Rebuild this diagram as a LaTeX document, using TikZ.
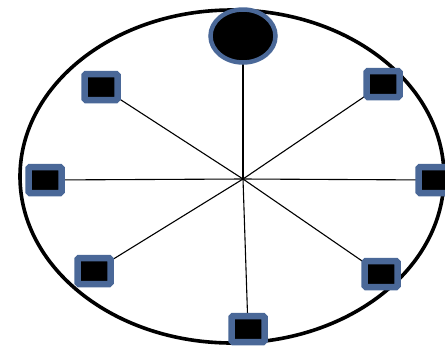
\documentclass[tikz,border=0pt]{standalone}
\usetikzlibrary{shapes.geometric}
\definecolor{sblue}{HTML}{4A6898}
\begin{document}
\begin{tikzpicture}[x=1pt,y=-1pt,
  sq/.style={draw=sblue,fill=black,line width=6.5pt,minimum width=33pt,minimum height=26pt,inner sep=0pt,rounded corners=1.5pt},
  spoke/.style={draw=black,line width=1.1pt},
  hubstyle/.style={draw=sblue,fill=black,line width=4.5pt,ellipse,minimum width=65pt,minimum height=53pt,inner sep=0pt}]
\useasboundingbox (0,0) rectangle (445,349);
\draw[line width=3.6pt] (232,176.5) ellipse [x radius=212, y radius=166.5];
\coordinate (c) at (243,179);
\coordinate (p0) at (243,36);
\coordinate (p1) at (101,87);
\coordinate (p2) at (383,84);
\coordinate (p3) at (45,180);
\coordinate (p4) at (435,180);
\coordinate (p5) at (94,271);
\coordinate (p6) at (381,274);
\coordinate (p7) at (248,329);
\foreach \i in {0,...,7} {\draw[spoke] (c) -- (p\i);}
\foreach \i in {1,...,7} {\node[sq] (n\i) at (p\i) {};}
\node[hubstyle] (hub) at (p0) {};
\end{tikzpicture}
\end{document}
